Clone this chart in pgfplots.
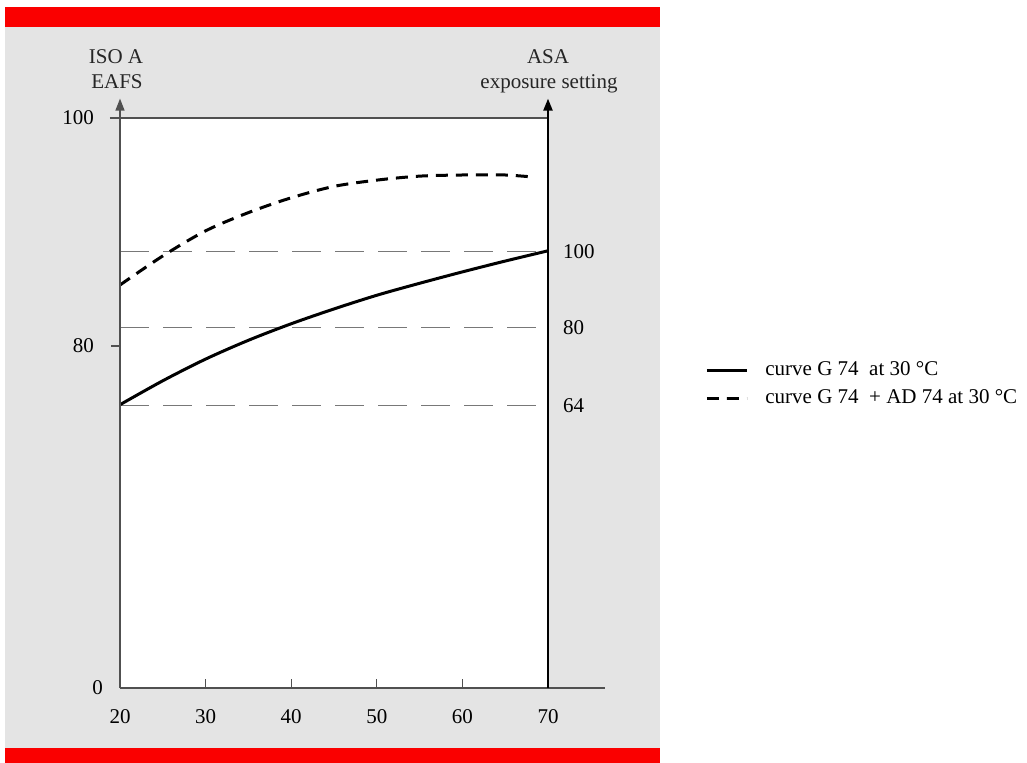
\documentclass[border=0pt]{standalone}
\usepackage{pgfplots}
\pgfplotsset{compat=1.18}
\usepackage{pgfplotstable}
\usepackage{fontspec}
\setmainfont{Liberation Serif}
\usetikzlibrary{arrows.meta}
\definecolor{panel}{RGB}{228,228,228}
\definecolor{redbar}{RGB}{250,0,0}
\definecolor{gridgray}{RGB}{120,120,120}
\definecolor{axgray}{RGB}{80,80,80}

\pgfplotstableread{
x y
20 74.85
25 76.95
30 78.85
35 80.5
40 81.95
45 83.25
50 84.45
55 85.5
60 86.5
65 87.45
70 88.35
}\solidcurve

\pgfplotstableread{
x y
20 85.35
25 87.9
30 90.1
35 91.7
40 93.0
45 94.0
50 94.55
55 94.9
60 95.0
65 95.0
68.5 94.8
}\dashedcurve

\begin{document}
\begin{tikzpicture}[font=\fontsize{10.5}{12.6}\selectfont]
\begin{scope}[x=0.5pt,y=-0.5pt,shift={(-120,-688)}]
  \fill[redbar] (5,7) rectangle (660,27);
  \fill[panel] (5,27) rectangle (660,748);
  \fill[redbar] (5,748) rectangle (660,763);
\end{scope}

% right axis with grid lines and white background
\begin{axis}[at={(0,0)}, anchor=south west, scale only axis,
  width=214pt, height=285pt,
  xmin=20, xmax=70, ymin=50, ymax=100,
  /pgf/number format/assume math mode=true,
  axis background/.style={fill=white},
  axis x line=none, axis y line=right,
  axis line style={draw=none},
  ytick={74.76,81.62,88.3}, yticklabels={64,80,100},
  major tick length=0pt,
  ymajorgrids,
  grid style={gridgray, line width=0.6pt, dash pattern=on 14.5pt off 7pt},
  yticklabel style={xshift=4pt, font=\fontsize{10.5}{12.6}\selectfont},
]
\end{axis}

% main axis
\begin{axis}[at={(0,0)}, anchor=south west, scale only axis,
  width=214pt, height=285pt,
  xmin=20, xmax=70, ymin=50, ymax=100,
  /pgf/number format/assume math mode=true,
  clip=false,
  axis x line=bottom, axis y line=left,
  axis line style={draw=none},
  xtick={20,30,...,70},
  xtick align=inside, ytick align=outside,
  ytick={80,100}, yticklabels={80,100},
  extra y ticks={50}, extra y tick labels={0},
  extra y tick style={major tick length=0pt},
  major tick length=4.5pt,
  tick style={axgray, line width=0.6pt},
  xticklabel style={yshift=-7pt, font=\fontsize{10.5}{12.6}\selectfont},
  yticklabel style={xshift=-5pt, font=\fontsize{10.5}{12.6}\selectfont},
  legend style={at={(1.3668,0.5333)}, anchor=west, draw=none, fill=none,
    inner sep=0pt, row sep=4pt,
    nodes={inner sep=0pt, text height=7.5pt, text depth=2.5pt},
    /tikz/every odd column/.append style={column sep=8.5pt},
    font=\fontsize{10.5}{12.6}\selectfont},
  legend cell align=left,
  legend image code/.code={\draw[#1] plot coordinates {(0pt,0pt) (20pt,0pt)};},
]
\addplot[black, line width=1.5pt, smooth] table {\solidcurve};
\addlegendentry{curve G 74\ \ at 30 °C}
\addplot[black, line width=1.5pt, smooth, dash pattern=on 6pt off 4pt] table {\dashedcurve};
\addlegendentry{curve G 74\ \ + AD 74 at 30 °C}

\draw[axgray, line width=0.8pt] (axis cs:18.83,100) -- (axis cs:70,100);
\draw[axgray, line width=0.8pt] (axis cs:20,50) -- (axis cs:76.66,50);
\draw[axgray, line width=0.7pt, -{Triangle[length=6pt,width=4.5pt]}] (axis cs:20,50) -- (axis cs:20,101.7);
\draw[black, line width=1.1pt, -{Triangle[length=6pt,width=4.5pt]}] (axis cs:70,50) -- (axis cs:70,101.7);
\end{axis}

\begin{scope}[x=0.5pt,y=-0.5pt,shift={(-120,-688)}]
  \node[anchor=base, inner sep=0pt, text=black!85] at (116,64) {ISO A};
  \node[anchor=base, inner sep=0pt, text=black!85] at (117,89) {EAFS};
  \node[anchor=base, inner sep=0pt, text=black!85] at (548,64) {ASA};
  \node[anchor=base, inner sep=0pt, text=black!85] at (549,89) {exposure setting};
  \pgfresetboundingbox
  \path[use as bounding box] (0,0) rectangle (1027,763);
\end{scope}
\end{tikzpicture}
\end{document}
